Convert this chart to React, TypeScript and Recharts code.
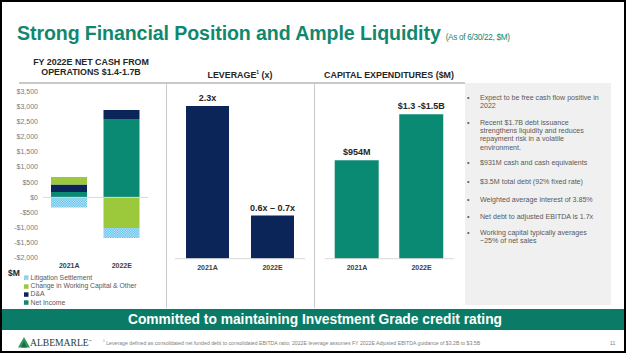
import React from 'react';
import { BarChart, Bar, XAxis, YAxis, ReferenceLine, Legend, LabelList } from 'recharts';

// ---------- DATA ----------
const cashCategories = ['2021A', '2022E'];
const netIncome = [180, 2590];
const depreciation = [245, 295];
const workingCapital = [245, -1010];
const litigation = [-335, -330];
const cashTicks = [-2000, -1500, -1000, -500, 0, 500, 1000, 1500, 2000, 2500, 3000, 3500];
const cashLegendOrder = ['Litigation Settlement', 'Change in Working Capital & Other', 'D&A', 'Net Income'];

const leverageCategories = ['2021A', '2022E'];
const leverageValues = [2.3, 0.65];
const leverageLabels = ['2.3x', '0.6x \u2013 0.7x'];

const capexCategories = ['2021A', '2022E'];
const capexValues = [954, 1400];
const capexLabels = ['$954M', '$1.3 -$1.5B'];

const bulletPoints: string[][] = [
  ['Expect to be free cash flow positive in', '2022'],
  ['Recent $1.7B debt issuance', 'strengthens liquidity and reduces', 'repayment risk in a volatile', 'environment.'],
  ['$931M cash and cash equivalents'],
  ['$3.5M total debt (92% fixed rate)'],
  ['Weighted average interest of 3.85%'],
  ['Net debt to adjusted EBITDA is 1.7x'],
  ['Working capital typically averages', '~25% of net sales'],
];
const bulletTops = [92, 117, 157, 176, 194, 211, 227];

// ---------- STYLE ----------
const FONT = '"Liberation Sans", Arial, sans-serif';
const TEAL = '#0b8a73';
const NAVY = '#0b2559';
const LIME = '#9cc93b';
const LIT_BLUE = '#3fb4e6';
const TITLE = '#12876f';
const BANNER = '#0a7b66';

const cashData = cashCategories.map((c, i) => ({
  cat: c,
  netIncome: netIncome[i],
  dna: depreciation[i],
  wc: workingCapital[i],
  lit: litigation[i],
}));
const leverageData = leverageCategories.map((c, i) => ({ cat: c, value: leverageValues[i], label: leverageLabels[i] }));
const capexData = capexCategories.map((c, i) => ({ cat: c, value: capexValues[i], label: capexLabels[i] }));

const fmtMoney = (v: number) => {
  const s = '$' + Math.abs(v).toLocaleString('en-US');
  return v < 0 ? '-' + s : s;
};

const XTick = (props: any) => {
  const { x, y, payload, dy } = props;
  return (
    <text x={x} y={y + (dy ?? 2)} textAnchor="middle" fontSize={7} fontWeight="bold" fill="#404040" fontFamily={FONT}>
      {payload.value}
    </text>
  );
};

const YTick = (props: any) => {
  const { x, y, payload } = props;
  return (
    <text x={x} y={y + 2.4} textAnchor="end" fontSize={7} fill="#7a7a7a" fontFamily={FONT}>
      {fmtMoney(payload.value)}
    </text>
  );
};

const TopLabel = (props: any) => {
  const { x, y, width, value, offset } = props;
  return (
    <text
      x={x + width / 2}
      y={y - (offset ?? 4)}
      textAnchor="middle"
      fontSize={9}
      fontWeight="bold"
      fill="#262626"
      fontFamily={FONT}
    >
      {value}
    </text>
  );
};

const PatternDefs = ({ id }: { id: string }) => (
  <defs>
    <pattern id={id} width="2.4" height="2.4" patternUnits="userSpaceOnUse">
      <rect width="2.4" height="2.4" fill={LIT_BLUE} />
      <rect width="1.2" height="1.2" fill="#dff3fb" />
      <rect x="1.2" y="1.2" width="1.2" height="1.2" fill="#dff3fb" />
    </pattern>
  </defs>
);

const CashLegend = (props: any) => {
  const payload = props.payload || [];
  const items = cashLegendOrder
    .map((n) => payload.find((p: any) => p.value === n))
    .filter(Boolean);
  return (
    <div style={{ fontFamily: FONT, fontSize: 6.8, color: '#595959', lineHeight: '8.4px' }}>
      {items.map((it: any, i: number) => {
        const fill = it.payload?.fill ?? it.color;
        const isPattern = typeof fill === 'string' && fill.startsWith('url');
        return (
          <div key={i} style={{ display: 'flex', alignItems: 'center', height: 8.4, whiteSpace: 'nowrap' }}>
            <svg width={5} height={5} style={{ marginRight: 1.5 }}>
              {isPattern ? <PatternDefs id={'legPat' + i} /> : null}
              <rect width={4.5} height={4.5} y={0.3} fill={isPattern ? `url(#legPat${i})` : fill} />
            </svg>
            <span>{it.value}</span>
          </div>
        );
      })}
    </div>
  );
};

const abs = (s: React.CSSProperties): React.CSSProperties => ({ position: 'absolute', ...s });

export default function App() {
  return (
    <div
      style={{
        position: 'absolute',
        left: 0,
        top: 0,
        width: 626,
        height: 353,
        boxSizing: 'border-box',
        border: '2px solid #000',
        background: '#fff',
        fontFamily: FONT,
        overflow: 'hidden',
      }}
    >
      {/* Title */}
      <div style={abs({ left: 15, top: 19, whiteSpace: 'nowrap', color: TITLE, lineHeight: '24px' })}>
        <span style={{ fontSize: 19.6, fontWeight: 'bold', letterSpacing: -0.1 }}>
          Strong Financial Position and Ample Liquidity
        </span>
        <span style={{ fontSize: 8.2, marginLeft: 5, letterSpacing: -0.3 }}>(As of 6/30/22, $M)</span>
      </div>

      {/* Section headings */}
      <div style={abs({ left: 19, top: 55, width: 140, textAlign: 'center', fontSize: 8.9, fontWeight: 'bold', color: '#262626', lineHeight: '10px' })}>
        FY 2022E NET CASH FROM<br />OPERATIONS $1.4-1.7B
      </div>
      <div style={abs({ left: 180, top: 68, width: 116, textAlign: 'center', fontSize: 8.9, fontWeight: 'bold', color: '#262626', lineHeight: '11px' })}>
        LEVERAGE<sup style={{ fontSize: 5, lineHeight: 0 }}>1</sup> (x)
      </div>
      <div style={abs({ left: 310, top: 68, width: 154, textAlign: 'center', fontSize: 8.9, fontWeight: 'bold', color: '#262626', lineHeight: '11px' })}>
        CAPITAL EXPENDITURES ($M)
      </div>

      {/* Rules */}
      <div style={abs({ left: 17, top: 80, width: 446, height: 1.5, background: '#c9c9c9' })} />
      <div style={abs({ left: 163.5, top: 81, width: 1.5, height: 225, background: '#c9c9c9' })} />
      <div style={abs({ left: 311.5, top: 81, width: 1.5, height: 225, background: '#c9c9c9' })} />

      {/* $M label */}
      <div style={abs({ left: 6, top: 266, fontSize: 8.5, fontWeight: 'bold', color: '#262626' })}>$M</div>

      {/* Chart 1: cash flow */}
      <div style={abs({ left: 0, top: 80, width: 160, height: 225 })}>
        <BarChart
          width={160}
          height={225}
          data={cashData}
          stackOffset="sign"
          margin={{ top: 9.3, right: 14, bottom: 29, left: 0 }}
          barSize={36}
        >
          <PatternDefs id="litPat" />
          <YAxis
            width={41}
            domain={[-2000, 3500]}
            ticks={cashTicks}
            interval={0}
            axisLine={false}
            tickLine={false}
            tickSize={0}
            tickMargin={5}
            tick={<YTick />}
          />
          <XAxis
            dataKey="cat"
            axisLine={false}
            tickLine={false}
            tickSize={0}
            tickMargin={0}
            height={20}
            tick={<XTick dy={10} />}
            interval={0}
          />
          <ReferenceLine y={0} stroke="#d9d9d9" strokeWidth={1} />
          <Bar dataKey="netIncome" name="Net Income" stackId="a" fill={TEAL} isAnimationActive={false} />
          <Bar dataKey="dna" name="D&A" stackId="a" fill={NAVY} isAnimationActive={false} />
          <Bar dataKey="wc" name="Change in Working Capital & Other" stackId="a" fill={LIME} isAnimationActive={false} />
          <Bar dataKey="lit" name="Litigation Settlement" stackId="a" fill="url(#litPat)" isAnimationActive={false} />
          <Legend
            layout="horizontal"
            verticalAlign="middle"
            align="center"
            content={<CashLegend />}
            wrapperStyle={{ position: 'absolute', left: 22, top: 191.5, width: 140, height: 36 }}
          />
        </BarChart>
      </div>

      {/* Chart 2: leverage */}
      <div style={abs({ left: 165, top: 80, width: 147, height: 200 })}>
        <BarChart width={147} height={200} data={leverageData} margin={{ top: 10.7, right: 9, bottom: 3.3, left: 8 }} barSize={43}>
          <YAxis hide domain={[0, 2.5]} />
          <XAxis
            dataKey="cat"
            stroke="#d9d9d9"
            tickLine={false}
            tickSize={0}
            tickMargin={0}
            height={20}
            tick={<XTick dy={11.5} />}
            interval={0}
          />
          <Bar dataKey="value" fill={NAVY} isAnimationActive={false}>
            <LabelList dataKey="label" content={<TopLabel offset={5} />} />
          </Bar>
        </BarChart>
      </div>

      {/* Chart 3: capex */}
      <div style={abs({ left: 313, top: 80, width: 147, height: 200 })}>
        <BarChart width={147} height={200} data={capexData} margin={{ top: 11.7, right: 8.2, bottom: 3.3, left: 9.7 }} barSize={44}>
          <YAxis hide domain={[0, 1600]} />
          <XAxis
            dataKey="cat"
            stroke="#d9d9d9"
            tickLine={false}
            tickSize={0}
            tickMargin={0}
            height={20}
            tick={<XTick dy={11.5} />}
            interval={0}
          />
          <Bar dataKey="value" fill={TEAL} isAnimationActive={false}>
            <LabelList dataKey="label" content={<TopLabel offset={3} />} />
          </Bar>
        </BarChart>
      </div>

      {/* Right text box */}
      <div style={abs({ left: 463, top: 81, width: 146, height: 222, background: '#f0f0f0' })} />
      {bulletPoints.map((lines, i) => (
        <div key={i} style={abs({ left: 465, top: bulletTops[i], fontSize: 7.1, color: '#595959', lineHeight: '8.2px' })}>
          <span style={abs({ left: 0, top: 0 })}>&#8226;</span>
          <div style={{ marginLeft: 13, whiteSpace: 'nowrap' }}>
            {lines.map((l, j) => (
              <div key={j}>{l}</div>
            ))}
          </div>
        </div>
      ))}

      {/* Banner */}
      <div
        style={abs({
          left: 0,
          top: 307,
          width: 626,
          height: 21,
          background: BANNER,
          color: '#fff',
          fontWeight: 'bold',
          fontSize: 13.8,
          textAlign: 'center',
          lineHeight: '21px',
        })}
      >
        Committed to maintaining Investment Grade credit rating
      </div>

      {/* Footer */}
      <svg style={abs({ left: 16, top: 335 })} width={12} height={11}>
        <polygon points="6,0 12,10.5 0,10.5" fill="#2f9a5a" />
        <polygon points="6,4 9,10.5 3,10.5" fill="#1e6b45" />
      </svg>
      <div
        style={abs({
          left: 28,
          top: 335,
          fontFamily: '"Liberation Serif", "Times New Roman", serif',
          fontSize: 9.6,
          color: '#27403a',
          lineHeight: '12px',
        })}
      >
        ALBEMARLE<sup style={{ fontSize: 3, lineHeight: 0 }}>™</sup>
      </div>
      <div style={abs({ left: 101, top: 338, fontSize: 5.2, color: '#7f7f7f', whiteSpace: 'nowrap', lineHeight: '7px' })}>
        <sup style={{ fontSize: 3.2, lineHeight: 0 }}>1</sup> Leverage defined as consolidated net funded debt to consolidated EBITDA ratio; 2022E leverage assumes FY 2022E Adjusted EBITDA guidance of $3.2B to $3.5B
      </div>
      <div style={abs({ left: 608, top: 338, fontSize: 5.2, color: '#7f7f7f', lineHeight: '7px' })}>11</div>
    </div>
  );
}
